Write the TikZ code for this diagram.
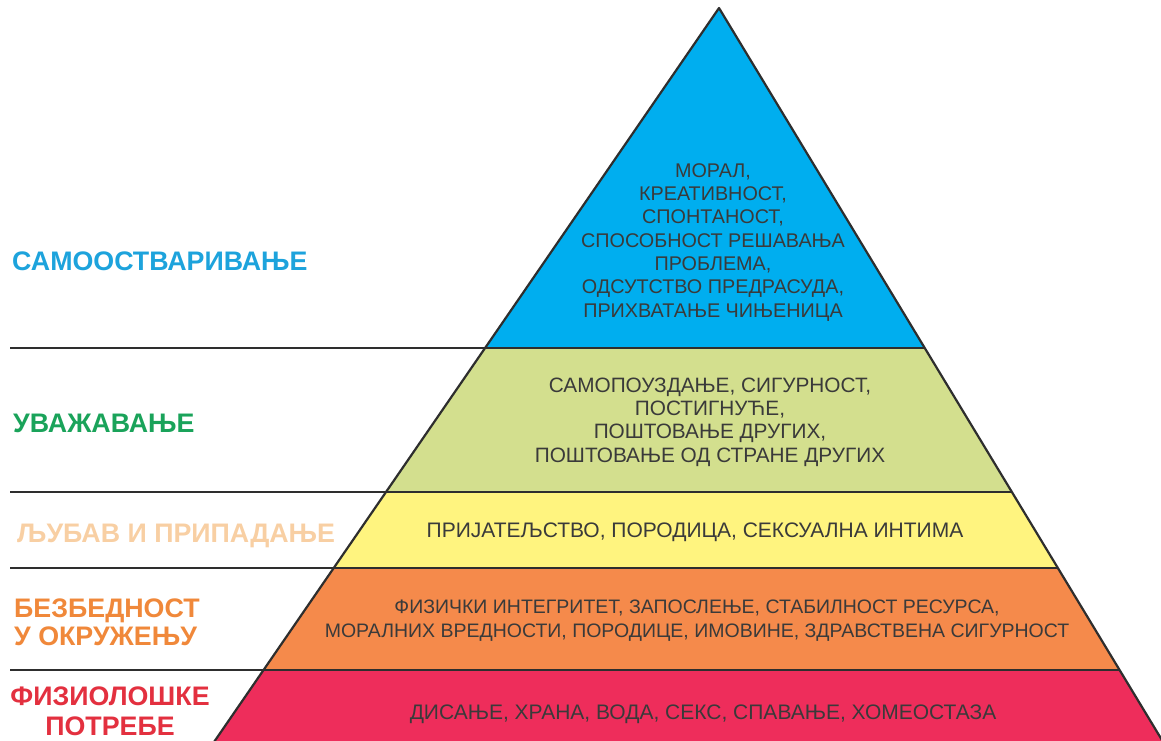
\documentclass[tikz,border=0pt]{standalone}
\usepackage{fontspec}
\setmainfont{Liberation Sans}
\definecolor{cblue}{HTML}{00AEEF}
\definecolor{cgreen}{HTML}{D3DF8E}
\definecolor{cyellow}{HTML}{FFF47F}
\definecolor{corange}{HTML}{F58A4B}
\definecolor{cred}{HTML}{EE2D5B}
\definecolor{lblue}{HTML}{1DA3DC}
\definecolor{lgreen}{HTML}{1AA35A}
\definecolor{lpeach}{HTML}{F8CFA3}
\definecolor{lorange}{HTML}{F0883A}
\definecolor{lred}{HTML}{E3303F}
\definecolor{edgecol}{HTML}{2E2E2E}
\definecolor{txt}{HTML}{3A3A3A}
\begin{document}
\begin{tikzpicture}[x=1pt,y=-1pt,
  edgeline/.style={draw=edgecol,line width=2.2pt,line join=round},
  inner/.style={text=txt,align=center,anchor=base,inner sep=0pt},
  lev/.style={font=\bfseries\fontsize{26.8}{28}\selectfont,anchor=base west,inner sep=0pt,align=left}]
\useasboundingbox (0,0) rectangle (1161,740);
\coordinate (A) at (719,8);
\coordinate (L1) at (485,348); \coordinate (R1) at (925,348);
\coordinate (L2) at (386,492); \coordinate (R2) at (1012,492);
\coordinate (L3) at (334,568); \coordinate (R3) at (1058,568);
\coordinate (L4) at (263.5,670); \coordinate (R4) at (1119.5,670);
\coordinate (L5) at (208.5,750); \coordinate (R5) at (1168,750);
\coordinate (S1) at (10,348);
\coordinate (S2) at (10,492);
\coordinate (S3) at (10,568);
\coordinate (S4) at (10,670);
% fills
\fill[cblue] (A) -- (R1) -- (L1) -- cycle;
\fill[cgreen] (L1) -- (R1) -- (R2) -- (L2) -- cycle;
\fill[cyellow] (L2) -- (R2) -- (R3) -- (L3) -- cycle;
\fill[corange] (L3) -- (R3) -- (R4) -- (L4) -- cycle;
\fill[cred] (L4) -- (R4) -- (R5) -- (L5) -- cycle;
% outlines
\draw[edgeline] (L5) -- (A) -- (R5);
\draw[edgeline] (S1) -- (R1);
\draw[edgeline] (S2) -- (R2);
\draw[edgeline] (S3) -- (R3);
\draw[edgeline] (S4) -- (R4);
% inner texts (base = baseline of last line)
\node[inner,font=\fontsize{19.8}{23.3}\selectfont] (t1) at (713,317) {МОРАЛ,\\КРЕАТИВНОСТ,\\СПОНТАНОСТ,\\СПОСОБНОСТ РЕШАВАЊА\\ПРОБЛЕМА,\\ОДСУТСТВО ПРЕДРАСУДА,\\ПРИХВАТАЊЕ ЧИЊЕНИЦА};
\node[inner,font=\fontsize{20.8}{23.3}\selectfont] (t2) at (710,462) {САМОПОУЗДАЊЕ, СИГУРНОСТ,\\ПОСТИГНУЋЕ,\\ПОШТОВАЊЕ ДРУГИХ,\\ПОШТОВАЊЕ ОД СТРАНЕ ДРУГИХ};
\node[inner,font=\fontsize{21}{23.3}\selectfont] (t3) at (695,537) {ПРИЈАТЕЉСТВО, ПОРОДИЦА, СЕКСУАЛНА ИНТИМА};
\node[inner,font=\fontsize{19.5}{23.5}\selectfont] (t4) at (697,637) {ФИЗИЧКИ ИНТЕГРИТЕТ, ЗАПОСЛЕЊЕ, СТАБИЛНОСТ РЕСУРСА,\\МОРАЛНИХ ВРЕДНОСТИ, ПОРОДИЦЕ, ИМОВИНЕ, ЗДРАВСТВЕНА СИГУРНОСТ};
\node[inner,font=\fontsize{21}{23.3}\selectfont] (t5) at (703,719) {ДИСАЊЕ, ХРАНА, ВОДА, СЕКС, СПАВАЊЕ, ХОМЕОСТАЗА};
% level labels
\node[lev,text=lblue] (l1) at (12,270) {САМООСТВАРИВАЊЕ};
\node[lev,text=lgreen] (l2) at (13,432) {УВАЖАВАЊЕ};
\node[lev,text=lpeach] (l3) at (17,542) {ЉУБАВ И ПРИПАДАЊЕ};
\node[lev,text=lorange] (l4) at (14,645) {БЕЗБЕДНОСТ\\У ОКРУЖЕЊУ};
\node[lev,text=lred,anchor=base,align=center,font=\bfseries\fontsize{26.8}{29.5}\selectfont] (l5) at (110,735) {ФИЗИОЛОШКЕ\\ПОТРЕБЕ};
\end{tikzpicture}
\end{document}
